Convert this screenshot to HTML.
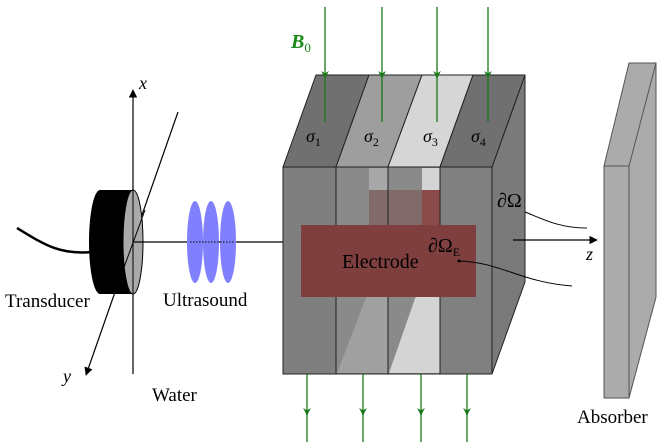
<!DOCTYPE html>
<html><head><meta charset="utf-8"><style>
html,body{margin:0;padding:0;background:#fff;}
svg{display:block;}
svg text{font-family:"Liberation Serif","Times New Roman",serif;}
</style></head><body>
<svg width="664" height="442" viewBox="0 0 664 442" xmlns="http://www.w3.org/2000/svg" font-family="Liberation Serif, serif">
<defs>
<marker id="ah" viewBox="0 0 10 10" refX="9" refY="5" markerWidth="7" markerHeight="7" orient="auto"><path d="M0,0 L10,5 L0,10 z" fill="#000"/></marker>
<marker id="gh" viewBox="0 0 10 10" refX="9" refY="5" markerWidth="6" markerHeight="6" orient="auto"><path d="M0,0 L10,5 L0,10 L3,5 z" fill="#1a7a1a"/></marker>
</defs>

<g>
<line x1="133" y1="374" x2="133" y2="90" stroke="#000" stroke-width="1.2" marker-end="url(#ah)"/>
<line x1="178" y1="112" x2="86" y2="375" stroke="#000" stroke-width="1.2" marker-end="url(#ah)"/>
<text x="139" y="89" font-size="18" font-style="italic" font-family="Liberation Serif, serif">x</text>
<text x="63" y="382" font-size="18" font-style="italic" font-family="Liberation Serif, serif">y</text>
</g>

<g>
<path d="M17,228 C45,245 60,255 92,252" stroke="#000" stroke-width="2.5" fill="none"/>
<ellipse cx="100" cy="242" rx="11" ry="52" fill="#000"/>
<rect x="100" y="190" width="33" height="104" fill="#000"/>
<ellipse cx="133" cy="242" rx="10" ry="52" fill="#aaa" stroke="#000" stroke-width="1"/>
<line x1="133" y1="190" x2="133" y2="294" stroke="#000" stroke-width="1"/>
<line x1="145" y1="210" x2="123" y2="270" stroke="#000" stroke-width="1"/>
</g>
<text x="5" y="307" font-size="19" font-family="Liberation Serif, serif">Transducer</text>

<line x1="133" y1="242" x2="285" y2="242" stroke="#000" stroke-width="1.2"/>

<g fill="#8080ff">
<ellipse cx="195" cy="242" rx="8" ry="41"/>
<ellipse cx="211" cy="242" rx="8" ry="41"/>
<ellipse cx="228" cy="242" rx="8" ry="41"/>
</g>
<line x1="190" y1="242" x2="235" y2="242" stroke="#223" stroke-width="1.2" stroke-dasharray="1.5,1.5"/>
<text x="163" y="306" font-size="19" font-family="Liberation Serif, serif">Ultrasound</text>
<text x="152" y="401" font-size="19" font-family="Liberation Serif, serif">Water</text>

<g stroke="#222" stroke-width="1">
<polygon points="492,167 525,75 525,282 492,374" fill="#7a7a7a"/>
<polygon points="283,167 316,75 369,75 336,167" fill="#707070"/>
<polygon points="336,167 369,75 422,75 388,167" fill="#9e9e9e"/>
<polygon points="388,167 422,75 473,75 440,167" fill="#d6d6d6"/>
<polygon points="440,167 473,75 525,75 492,167" fill="#707070"/>
<rect x="283" y="167" width="53" height="207" fill="#7f7f7f"/>
<rect x="336" y="167" width="52" height="207" fill="#8a8a8a"/>
<rect x="388" y="167" width="52" height="207" fill="#8a8a8a"/>
<rect x="440" y="167" width="52" height="207" fill="#808080"/>
</g>
<g stroke="none">
<rect x="369" y="168" width="19" height="22" fill="#a8a8a8"/>
<rect x="422" y="168" width="18" height="22" fill="#d4d4d4"/>
<rect x="369" y="190" width="19" height="35" fill="#806a6a"/>
<rect x="388" y="190" width="34" height="35" fill="#806a6a"/>
<rect x="422" y="190" width="18" height="35" fill="#8c4b4b"/>
<polygon points="337,373 369,290 388,290 388,373" fill="#a0a0a0"/>
<polygon points="389,373 418,290 440,290 440,373" fill="#d4d4d4"/>
</g>
<g stroke="#222" stroke-width="1">
<line x1="336" y1="167" x2="336" y2="374"/>
<line x1="388" y1="167" x2="388" y2="374"/>
<line x1="440" y1="167" x2="440" y2="374"/>
<line x1="283" y1="374" x2="492" y2="374"/>
</g>
<rect x="301" y="225" width="175" height="72" fill="#7f3f3f"/>
<text x="342" y="268" font-size="20" font-family="Liberation Serif, serif">Electrode</text>
<text x="428" y="252" font-size="20" font-family="Liberation Serif, serif">∂Ω<tspan font-size="12" dy="4">E</tspan></text>
<text x="497" y="207" font-size="20" font-family="Liberation Serif, serif">∂Ω</text>

<g font-size="18" font-style="italic" font-family="Liberation Serif, serif">
<text x="306" y="142">σ<tspan font-size="12" font-style="normal" dy="4">1</tspan></text>
<text x="364" y="142">σ<tspan font-size="12" font-style="normal" dy="4">2</tspan></text>
<text x="423" y="142">σ<tspan font-size="12" font-style="normal" dy="4">3</tspan></text>
<text x="471" y="142">σ<tspan font-size="12" font-style="normal" dy="4">4</tspan></text>
</g>

<path d="M525,212 C545,220 560,228 587,228" stroke="#000" fill="none"/>
<path d="M459,261 C500,262 520,282 572,286" stroke="#000" fill="none"/>
<circle cx="459" cy="261" r="1.5" fill="#000"/>

<line x1="513" y1="240" x2="597" y2="240" stroke="#000" stroke-width="1.2" marker-end="url(#ah)"/>
<text x="586" y="260" font-size="18" font-style="italic" font-family="Liberation Serif, serif">z</text>

<g stroke="#1a7a1a" stroke-width="1.3">
<line x1="325" y1="7" x2="325" y2="78" marker-end="url(#gh)"/><line x1="325" y1="76" x2="325" y2="122"/>
<line x1="382" y1="7" x2="382" y2="78" marker-end="url(#gh)"/><line x1="382" y1="76" x2="382" y2="122"/>
<line x1="437" y1="7" x2="437" y2="78" marker-end="url(#gh)"/><line x1="437" y1="76" x2="437" y2="122"/>
<line x1="488" y1="7" x2="488" y2="78" marker-end="url(#gh)"/><line x1="488" y1="76" x2="488" y2="122"/>
<line x1="307" y1="374" x2="307" y2="415" marker-end="url(#gh)"/><line x1="307" y1="410" x2="307" y2="442"/>
<line x1="363" y1="374" x2="363" y2="415" marker-end="url(#gh)"/><line x1="363" y1="410" x2="363" y2="442"/>
<line x1="421" y1="374" x2="421" y2="415" marker-end="url(#gh)"/><line x1="421" y1="410" x2="421" y2="442"/>
<line x1="467" y1="374" x2="467" y2="415" marker-end="url(#gh)"/><line x1="467" y1="410" x2="467" y2="442"/>
</g>
<text x="291" y="48" font-size="20" font-weight="bold" font-style="italic" fill="#1a8a1a" font-family="Liberation Serif, serif">B<tspan font-size="13" font-weight="normal" font-style="normal" dy="4">0</tspan></text>

<g stroke="#555" stroke-width="1" fill="#ababab">
<polygon points="629,166 654,63 656,63 656,297 629,398"/>
<polygon points="604,166 629,63 656,63 629,166"/>
<rect x="604" y="166" width="25" height="232"/>
</g>
<text x="577" y="423" font-size="19" font-family="Liberation Serif, serif">Absorber</text>
</svg>
</body></html>
